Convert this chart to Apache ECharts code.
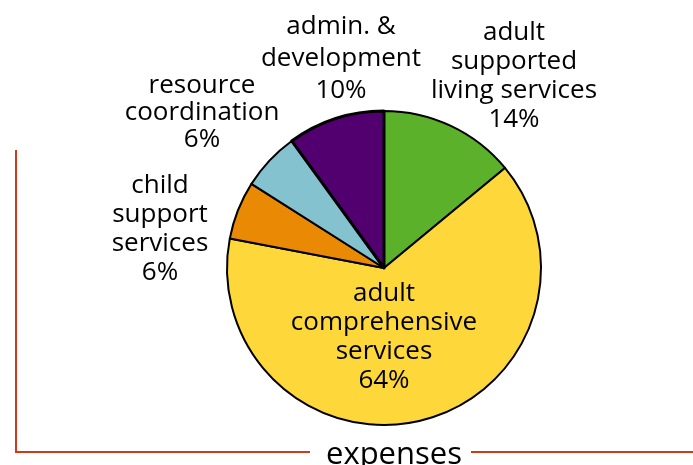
<!DOCTYPE html>
<html><head><meta charset="utf-8">
<script src="https://cdn.jsdelivr.net/npm/echarts@6/dist/echarts.min.js"></script>
<style>html,body{margin:0;padding:0;background:#fff}#c{width:693px;height:465px}</style>
</head><body><div id="c"></div>
<script>
const categories = ["adult\nsupported\nliving services", "adult\ncomprehensive\nservices", "child\nsupport\nservices", "resource\ncoordination", "admin. &\ndevelopment"];
const values = [14, 64, 6, 6, 10];
const colors = ["#5bb12a", "#fed83b", "#ea8a04", "#83c2ce", "#520070"];
const title = "expenses";

const labelPos = [[514, 76], [384, 337], [160, 229], [202, 113], [341, 59]];
const lineHeights = [29, 29, 29, 27, 32];
const FONT = "'Open Sans', sans-serif";

const chart = echarts.init(document.getElementById('c'));
chart.setOption({
  animation: false,
  title: {
    text: title, left: 394, top: 455, padding: 0, textAlign: 'center', textVerticalAlign: 'middle',
    textStyle: { fontFamily: FONT, fontSize: 31, fontWeight: 'normal', color: '#000' }
  },
  graphic: [
    { type: 'polyline', shape: { points: [[16, 150], [16, 452], [310, 452]] }, style: { stroke: '#d03a16', lineWidth: 2, fill: null } },
    { type: 'line', shape: { x1: 471, y1: 452, x2: 693, y2: 452 }, style: { stroke: '#d03a16', lineWidth: 2 } }
  ],
  series: [{
    type: 'pie',
    center: [384, 268],
    radius: 157,
    startAngle: 90,
    clockwise: true,
    avoidLabelOverlap: false,
    labelLine: { show: false },
    itemStyle: { borderColor: '#000', borderWidth: 2 },
    label: {
      show: true,
      fontFamily: FONT, fontSize: 26, color: '#000', align: 'center',
      formatter: p => p.name + '\n' + p.value + '%'
    },
    labelLayout: p => ({ x: labelPos[p.dataIndex][0], y: labelPos[p.dataIndex][1], align: 'center', verticalAlign: 'middle' }),
    data: categories.map((c, i) => ({
      name: c, value: values[i],
      itemStyle: { color: colors[i], borderWidth: i === 4 ? 3 : 2 },
      label: { lineHeight: lineHeights[i] }
    }))
  }]
});
</script></body></html>
